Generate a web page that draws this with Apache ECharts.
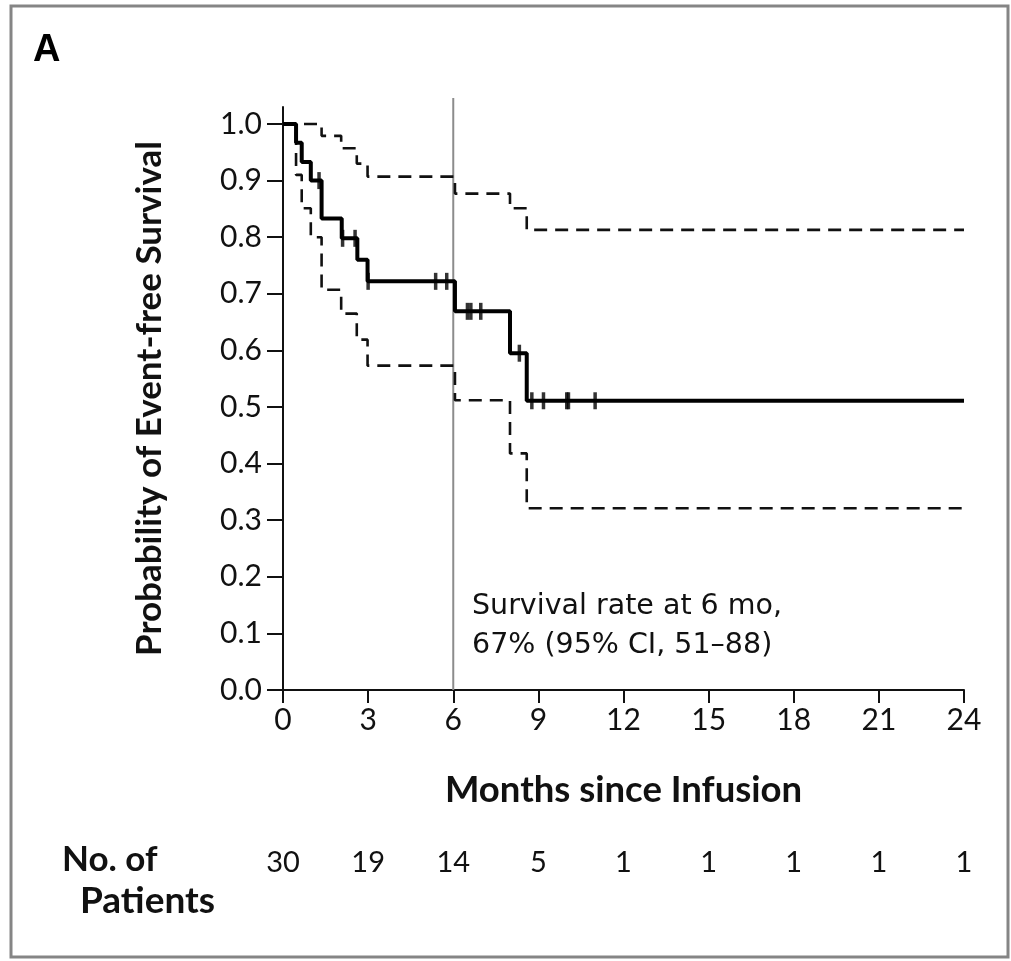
<!DOCTYPE html>
<html>
<head>
<meta charset="utf-8">
<script src="https://cdn.jsdelivr.net/npm/echarts@6/dist/echarts.min.js"></script>
<style>html,body{margin:0;padding:0;background:#fff}#c{width:1011px;height:961px}</style>
</head>
<body>
<div id="c"></div>
<script>
// Kaplan–Meier estimate (step times in months, survival probability after the step)
var kmTimes = [0, 0.46, 0.66, 0.98, 1.36, 2.07, 2.62, 2.98, 6.06, 8.0, 8.59, 24];
var kmSurv  = [1.0, 0.967, 0.933, 0.90, 0.833, 0.798, 0.76, 0.722, 0.669, 0.595, 0.511, 0.511];
// Upper 95% CI
var upTimes = [0, 1.36, 2.05, 2.6, 2.98, 6.06, 8.0, 8.59, 24];
var upSurv  = [1.0, 0.979, 0.957, 0.93, 0.907, 0.877, 0.851, 0.813, 0.813];
// Lower 95% CI
var loTimes = [0, 0.46, 0.66, 0.98, 1.36, 2.05, 2.6, 2.98, 6.06, 8.0, 8.59, 24];
var loSurv  = [1.0, 0.91, 0.851, 0.80, 0.707, 0.665, 0.619, 0.573, 0.512, 0.418, 0.321, 0.321];
// Censored observations
var censorTimes = [1.27, 2.1, 2.54, 3.0, 5.38, 5.77, 6.5, 6.62, 6.97, 8.33, 8.77, 9.18, 10.0, 10.06, 11.0];
var censorSurv  = [0.90, 0.798, 0.798, 0.722, 0.722, 0.722, 0.669, 0.669, 0.669, 0.595, 0.511, 0.511, 0.511, 0.511, 0.511];
// 6-month reference line
var refLineX = [6, 6];
var refLineY = [0, 1.046];
// Axis ticks
var xTicks = [0, 3, 6, 9, 12, 15, 18, 21, 24];
var yTicks = [0, 0.1, 0.2, 0.3, 0.4, 0.5, 0.6, 0.7, 0.8, 0.9, 1.0];
// Number at risk at each x tick
var atRisk = [30, 19, 14, 5, 1, 1, 1, 1, 1];

function zip(a, b) { return a.map(function (v, i) { return [v, b[i]]; }); }

var chart = echarts.init(document.getElementById('c'), null, {renderer: 'canvas'});
var tickFont = 'Lato';
var option = {
  backgroundColor: '#fff',
  animation: false,
  grid: {left: 283, right: 47, top: 107, bottom: 271, containLabel: false},
  xAxis: [{
    type: 'value', min: 0, max: 24, interval: 3,
    axisLine: {show: true, lineStyle: {color: '#111', width: 2}},
    axisTick: {show: true, length: 13, lineStyle: {color: '#111', width: 2}},
    axisLabel: {margin: 15, fontSize: 30, color: '#111', fontFamily: tickFont},
    splitLine: {show: false},
    name: 'Months since Infusion', nameLocation: 'middle', nameGap: 82,
    nameTextStyle: {fontSize: 36.5, fontWeight: 'bold', color: '#111', fontFamily: tickFont}
  }, {
    type: 'value', min: 0, max: 24, interval: 3, position: 'bottom', offset: 158,
    axisLine: {show: false}, axisTick: {show: false}, splitLine: {show: false},
    axisLabel: {margin: 0, fontSize: 29, color: '#111', fontFamily: tickFont,
      formatter: function (v) { var i = xTicks.indexOf(v); return i >= 0 ? String(atRisk[i]) : ''; }}
  }],
  yAxis: {
    type: 'value', min: 0, max: 1.03, interval: 0.1,
    axisLine: {show: true, lineStyle: {color: '#111', width: 2}},
    axisTick: {show: true, length: 16, lineStyle: {color: '#111', width: 2}, customValues: yTicks},
    axisLabel: {margin: 21, fontSize: 30, color: '#111', fontFamily: tickFont, customValues: yTicks,
      formatter: function (v) { return v.toFixed(1); }},
    splitLine: {show: false},
    name: 'Probability of Event-free Survival', nameLocation: 'middle', nameGap: 116,
    nameTextStyle: {fontSize: 35, fontWeight: 'bold', color: '#111', fontFamily: tickFont}
  },
  series: [
    {type: 'line', name: 'ref', data: zip(refLineX, refLineY), clip: false, symbol: 'none',
     lineStyle: {color: '#8c8c8c', width: 2}, z: 1, silent: true},
    {type: 'line', name: 'upper', step: 'end', data: zip(upTimes, upSurv), symbol: 'none',
     lineStyle: {color: '#111', width: 2.6, type: [13, 8]}, z: 2},
    {type: 'line', name: 'lower', step: 'end', data: zip(loTimes, loSurv), symbol: 'none',
     lineStyle: {color: '#111', width: 2.6, type: [13, 8]}, z: 2},
    {type: 'line', name: 'KM', step: 'end', data: zip(kmTimes, kmSurv), symbol: 'none',
     lineStyle: {color: '#000', width: 4}, z: 3},
    {type: 'scatter', name: 'censored', data: zip(censorTimes, censorSurv), symbol: 'rect',
     symbolSize: [3.5, 17], itemStyle: {color: '#000'}, z: 4}
  ],
  graphic: [
    {type: 'rect', shape: {x: 11, y: 6, width: 997, height: 951},
     style: {fill: 'none', stroke: '#858585', lineWidth: 3}, silent: true},
    {type: 'text', left: 33, top: 32,
     style: {text: 'A', font: 'bold 38px "Liberation Sans", Arial, sans-serif', fill: '#000'}},
    {type: 'text', left: 472, top: 587,
     style: {text: 'Survival rate at 6 mo,\n67% (95% CI, 51\u201388)', font: '28.5px "DejaVu Sans", sans-serif',
       fill: '#111', lineHeight: 39}},
    {type: 'text', left: 62, top: 842,
     style: {text: 'No. of', font: 'bold 35px Lato, sans-serif', fill: '#111'}},
    {type: 'text', left: 80, top: 883,
     style: {text: 'Patients', font: 'bold 37px Lato, sans-serif', fill: '#111'}}
  ]
};
chart.setOption(option);
</script>
</body>
</html>
